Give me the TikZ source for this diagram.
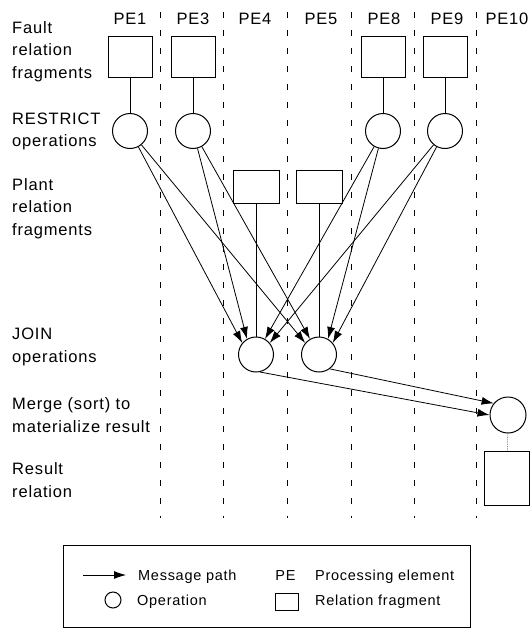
\documentclass[tikz,border=0pt]{standalone}
\usepackage{fontspec}
\setmainfont{Liberation Sans}[LetterSpace=5]
\usepackage{tikz}
\usetikzlibrary{calc}
\usetikzlibrary{arrows.meta,shapes,backgrounds}
\usetikzlibrary{positioning}

\begin{document}
\begin{tikzpicture}
        [x=1pt,y=-1pt,
          relbox/.style={draw,line width=1pt,inner sep=0pt,minimum width=44pt,minimum height=41pt},
          opcirc/.style={draw,circle,line width=1pt,inner sep=0pt,minimum size=35pt},
          msg/.style={line width=0.8pt,-{Latex[length=12pt,width=8pt]}},
          link/.style={line width=0.8pt},
          pesep/.style={line width=1pt,dash pattern=on 6pt off 12pt},
          rowlabel/.style={anchor=base west,align=left,inner sep=0pt,font=\fontsize{16.5}{22.5}\selectfont},
          pelabel/.style={inner sep=0pt,font=\fontsize{16.5}{20}\selectfont},
          keytext/.style={anchor=base west,inner sep=0pt,font=\fontsize{14.5}{18}\selectfont}]
        \useasboundingbox (0,0) rectangle (530,629);
        \foreach \x in {160,223,287,351,414,476}
          \draw[pesep] (\x,12) -- (\x,518);
        \foreach \n/\x in {1/130,3/193,4/255,5/321,8/384,9/447,10/507}
          \node[pelabel] (pe\n) at (\x,19) {PE\n};

        \node[rowlabel] (fault) at (12,78) {Fault\\relation\\fragments};
        \node[rowlabel] (restrict) at (12,146.5) {RESTRICT\\operations};
        \node[rowlabel] (plant) at (12,235) {Plant\\relation\\fragments};
        \node[rowlabel] (join) at (12,362) {JOIN\\operations};
        \node[rowlabel] (merge) at (12,432) {Merge (sort) to\\materialize result};
        \node[rowlabel] (result) at (12,497) {Result\\relation};

        \foreach \n/\x in {1/130,3/193,8/383,9/445} {
          \node[relbox] (f\n) at (\x,56.5) {};
          \node[opcirc] (r\n) at (\x,131) {};
          \draw[link] (f\n) -- (r\n);
        }
        \node[relbox,minimum width=46pt,minimum height=33pt] (p4) at (256,187) {};
        \node[relbox,minimum width=46pt,minimum height=33pt] (p5) at (319,187) {};
        \node[opcirc] (j4) at (256,354.5) {};
        \node[opcirc] (j5) at (319,354.5) {};
        \draw[link] (p4) -- (j4);
        \draw[link] (p5) -- (j5);

        \draw[msg] (r1) -- (j4.140);
        \draw[msg] (r3) -- (j4.120);
        \draw[msg] (r8) -- (j4.60);
        \draw[msg] (r9) -- (j4.40);
        \draw[msg] (r1) -- (j5.140);
        \draw[msg] (r3) -- (j5.120);
        \draw[msg] (r8) -- (j5.60);
        \draw[msg] (r9) -- (j5.40);

        \node[opcirc,minimum size=36pt] (m) at (508,415) {};
        \draw[msg] (j4.-77) -- (m.180);
        \draw[msg] (j5.-53) -- (m.141);
        \node[relbox,minimum width=45pt,minimum height=54pt] (res) at (507,478) {};
        \draw[link,densely dotted,gray] (m) -- (res);

        \node[draw,line width=1pt,minimum width=407pt,minimum height=82pt] (key) at (266.5,586) {};
        \coordinate (ka) at (83,575);
        \coordinate (kb) at (126,575);
        \draw[msg] (ka) -- (kb);
        \node[keytext] (kmsg) at (138,580) {Message path};
        \node[opcirc,minimum size=16pt] (kop) at (113,600) {};
        \node[keytext] (kopt) at (137,605) {Operation};
        \node[keytext,anchor=base] (kpe) at (285.5,580) {PE};
        \node[keytext] (kpet) at (315,580) {Processing element};
        \node[relbox,minimum width=23pt,minimum height=17pt] (kfr) at (286.5,601.5) {};
        \node[keytext] (kfrt) at (315,605) {Relation fragment};
\end{tikzpicture}
\end{document}
